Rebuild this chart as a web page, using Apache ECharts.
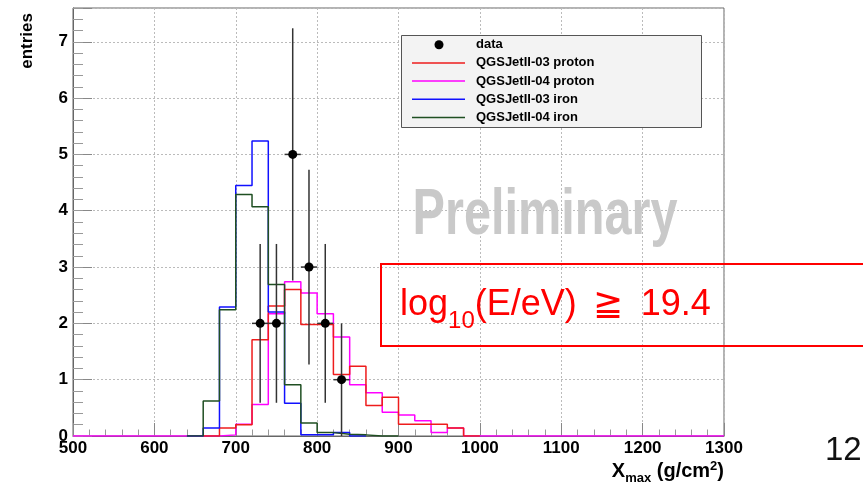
<!DOCTYPE html>
<html>
<head>
<meta charset="utf-8">
<script src="https://cdn.jsdelivr.net/npm/echarts@6/dist/echarts.min.js"></script>
<style>
  html, body { margin: 0; padding: 0; background: #ffffff; }
  #chart { width: 863px; height: 484px; }
</style>
</head>
<body>
<div id="chart"></div>
<script>
// Xmax distributions, 20 g/cm2 bins; index 0 is the bin starting at 640 g/cm2
const binStart = 640;
const binWidth = 20;

const qgs03Proton = [0, 0, 0.14, 0.20, 1.71, 2.31, 2.60, 1.98, 1.98, 1.09, 1.24, 0.54, 0.69, 0.21, 0.21, 0.21, 0.14, 0];
const qgs04Proton = [0, 0, 0.02, 0.21, 0.56, 2.17, 2.74, 2.54, 2.17, 1.76, 0.91, 0.77, 0.42, 0.375, 0.27, 0.06, 0.14, 0];
const qgs03Iron   = [0, 0.14, 2.29, 4.45, 5.24, 2.20, 0.58, 0.02, 0.02, 0.06, 0, 0, 0, 0, 0, 0, 0, 0];
const qgs04Iron   = [0, 0.62, 2.24, 4.29, 4.07, 2.69, 0.91, 0.23, 0.06, 0.03, 0.02, 0, 0, 0, 0, 0, 0, 0];

// Observed events (bin centres), counts and their errors
const dataX   = [730, 750, 770, 790, 810, 830];
const dataY   = [2, 2, 5, 3, 2, 1];
const dataErr = [1.41, 1.41, 2.24, 1.73, 1.41, 1.00];

const seriesNames  = ['data', 'QGSJetII-03 proton', 'QGSJetII-04 proton', 'QGSJetII-03 iron', 'QGSJetII-04 iron'];
const seriesColors = ['#000000', '#ee1c1c', '#ff00ff', '#1010ff', '#1f4f22'];

const FONT = '"Liberation Sans", Arial, Helvetica, sans-serif';

// Outline points of a histogram over [from, to]; bins outside the array are empty
function stepPoints(values, from, to) {
  const pts = [];
  for (let e = from; e < to; e += binWidth) {
    const i = Math.round((e - binStart) / binWidth);
    const v = (i >= 0 && i < values.length) ? values[i] : 0;
    pts.push([e, v]);
  }
  pts.push([to, 0]);
  return pts;
}

function histSeries(name, values, color, from, to, z) {
  return {
    type: 'line',
    name: name,
    step: 'end',
    data: stepPoints(values, from, to),
    symbol: 'none',
    showSymbol: false,
    lineStyle: { color: color, width: 1.5 },
    itemStyle: { color: color },
    silent: true,
    animation: false,
    z: z
  };
}

// Lay out text pieces (sub/superscripts) on a common baseline
const measureCtx = document.createElement('canvas').getContext('2d');
function textRun(pieces, startX, baseline, alignRight, weight, color, z) {
  const widths = pieces.map(p => {
    measureCtx.font = weight + ' ' + p.size + 'px ' + FONT;
    return measureCtx.measureText(p.text).width + (p.dx || 0);
  });
  const total = widths.reduce((a, b) => a + b, 0);
  let x = alignRight ? startX - total : startX;
  const out = [];
  pieces.forEach((p, k) => {
    out.push({
      type: 'text',
      x: x + (p.dx || 0),
      y: baseline + (p.dy || 0) - 0.3465 * p.size,
      z: z,
      style: {
        text: p.text, fontSize: p.size, fontWeight: weight, fontFamily: FONT,
        fill: color, align: 'left', verticalAlign: 'middle'
      }
    });
    x += widths[k];
  });
  return out;
}

// Legend: frame, one row per series
function legendElements() {
  const out = [
    { type: 'rect', z: 30, shape: { x: 401.5, y: 35.5, width: 300, height: 92 },
      style: { fill: '#f3f3f3', stroke: '#555', lineWidth: 1 } }
  ];
  const rowY = [44.7, 62.9, 81.1, 99.3, 117.5];
  seriesNames.forEach((name, i) => {
    const y = rowY[i];
    if (i === 0) {
      out.push({ type: 'circle', z: 31, shape: { cx: 439, cy: y, r: 4.5 },
                 style: { fill: seriesColors[0] } });
    } else {
      out.push({ type: 'line', z: 31, shape: { x1: 412, y1: y, x2: 465, y2: y },
                 style: { stroke: seriesColors[i], lineWidth: 1.5 } });
    }
    out.push({ type: 'text', z: 31, x: 476, y: y,
               style: { text: name, fontSize: 13, fontWeight: 'bold', fontFamily: FONT,
                        fill: '#000', align: 'left', verticalAlign: 'middle' } });
  });
  return out;
}

const chart = echarts.init(document.getElementById('chart'), null, { renderer: 'canvas' });

const axisLabelStyle = { fontSize: 17, fontWeight: 'bold', color: '#000', fontFamily: FONT };

const graphics = [
  // watermark
  { type: 'text', x: 545, y: 216, scaleX: 0.76, z: 1,
    style: { text: 'Preliminary', fontSize: 64, fontWeight: 'bold', fontFamily: FONT,
             fill: '#c9c9c9', align: 'center', verticalAlign: 'middle' } },
  // energy cut box
  { type: 'rect', z: 20, shape: { x: 381, y: 264, width: 520, height: 82 },
    style: { fill: 'rgba(0,0,0,0)', stroke: '#ff0000', lineWidth: 2 } },
  // y axis title
  { type: 'text', x: 27, y: 13, rotation: Math.PI / 2, z: 5,
    style: { text: 'entries', fontSize: 17, fontWeight: 'bold', fontFamily: FONT,
             fill: '#000', align: 'right', verticalAlign: 'middle' } },
  // page number
  { type: 'text', x: 825, y: 462 - 0.3465 * 33, z: 5,
    style: { text: '12', fontSize: 33, fontWeight: 'normal', fontFamily: FONT,
             fill: '#111', align: 'left', verticalAlign: 'middle' } }
]
.concat(legendElements())
.concat(textRun([
  { text: 'log', size: 36 },
  { text: '10', size: 24, dy: 12 },
  { text: '(E/eV)', size: 36 },
  { text: '\u2267', size: 36, dx: 16 },
  { text: '19.4', size: 36, dx: 18 }
], 400, 318, false, 'normal', '#ff0000', 21))
.concat(textRun([
  { text: 'X', size: 20 },
  { text: 'max', size: 13, dy: 5 },
  { text: ' (g/cm', size: 20 },
  { text: '2', size: 13, dy: -7 },
  { text: ')', size: 20 }
], 724, 478, true, 'bold', '#000', 5));

chart.setOption({
  animation: false,
  backgroundColor: '#ffffff',
  grid: {
    left: 73, top: 8, right: 139, bottom: 48,
    show: true, borderColor: '#666', borderWidth: 1, backgroundColor: 'rgba(0,0,0,0)'
  },
  xAxis: {
    type: 'value', min: 500, max: 1300, interval: 100,
    axisLine: { show: true, onZero: false, lineStyle: { color: '#666', width: 1 } },
    axisTick: { show: true, inside: true, length: 13, lineStyle: { color: '#888' } },
    minorTick: { show: true, splitNumber: 5, length: 6.5, lineStyle: { color: '#999' } },
    splitLine: { show: true, lineStyle: { color: '#bbb', type: [2, 2], width: 1 } },
    axisLabel: Object.assign({ margin: 4, formatter: v => String(v) }, axisLabelStyle)
  },
  yAxis: [
    {
      type: 'value', min: 0, max: 7.6, interval: 1,
      axisLine: { show: true, lineStyle: { color: '#666', width: 1 } },
      axisTick: { show: true, inside: true, length: 19, lineStyle: { color: '#888' } },
      splitLine: { show: true, lineStyle: { color: '#bbb', type: [2, 2], width: 1 } },
      axisLabel: Object.assign({
        margin: 5,
        formatter: v => (Math.abs(v - Math.round(v)) < 1e-6 ? String(Math.round(v)) : '')
      }, axisLabelStyle)
    },
    {
      // minor ticks every 0.2 entries
      type: 'value', min: 0, max: 7.6, interval: 0.2, position: 'left',
      axisLine: { show: false },
      axisTick: { show: true, inside: true, length: 10, lineStyle: { color: '#999' } },
      splitLine: { show: false },
      axisLabel: { show: false }
    }
  ],
  series: [
    histSeries(seriesNames[2], qgs04Proton, seriesColors[2], 500, 1300, 2),
    histSeries(seriesNames[1], qgs03Proton, seriesColors[1], 660, 1000, 3),
    histSeries(seriesNames[3], qgs03Iron, seriesColors[3], 640, 860, 4),
    histSeries(seriesNames[4], qgs04Iron, seriesColors[4], 640, 900, 5),
    {
      type: 'custom',
      name: seriesNames[0],
      data: dataX.map((x, i) => [x, dataY[i], dataErr[i]]),
      encode: { x: 0, y: 1 },
      itemStyle: { color: seriesColors[0] },
      z: 10,
      silent: true,
      renderItem: function (params, api) {
        const x = api.value(0), y = api.value(1), e = api.value(2);
        const c = api.coord([x, y]);
        const top = api.coord([x, y + e]);
        const bot = api.coord([x, Math.max(0, y - e)]);
        const l = api.coord([x - binWidth / 2, y]);
        const r = api.coord([x + binWidth / 2, y]);
        return {
          type: 'group',
          children: [
            { type: 'line', shape: { x1: top[0], y1: top[1], x2: bot[0], y2: bot[1] },
              style: { stroke: '#333', lineWidth: 1.5 } },
            { type: 'line', shape: { x1: l[0], y1: l[1], x2: r[0], y2: r[1] },
              style: { stroke: '#333', lineWidth: 1.5 } },
            { type: 'circle', shape: { cx: c[0], cy: c[1], r: 4.5 },
              style: { fill: '#000' } }
          ]
        };
      }
    }
  ],
  graphic: { elements: graphics }
});
</script>
</body>
</html>
